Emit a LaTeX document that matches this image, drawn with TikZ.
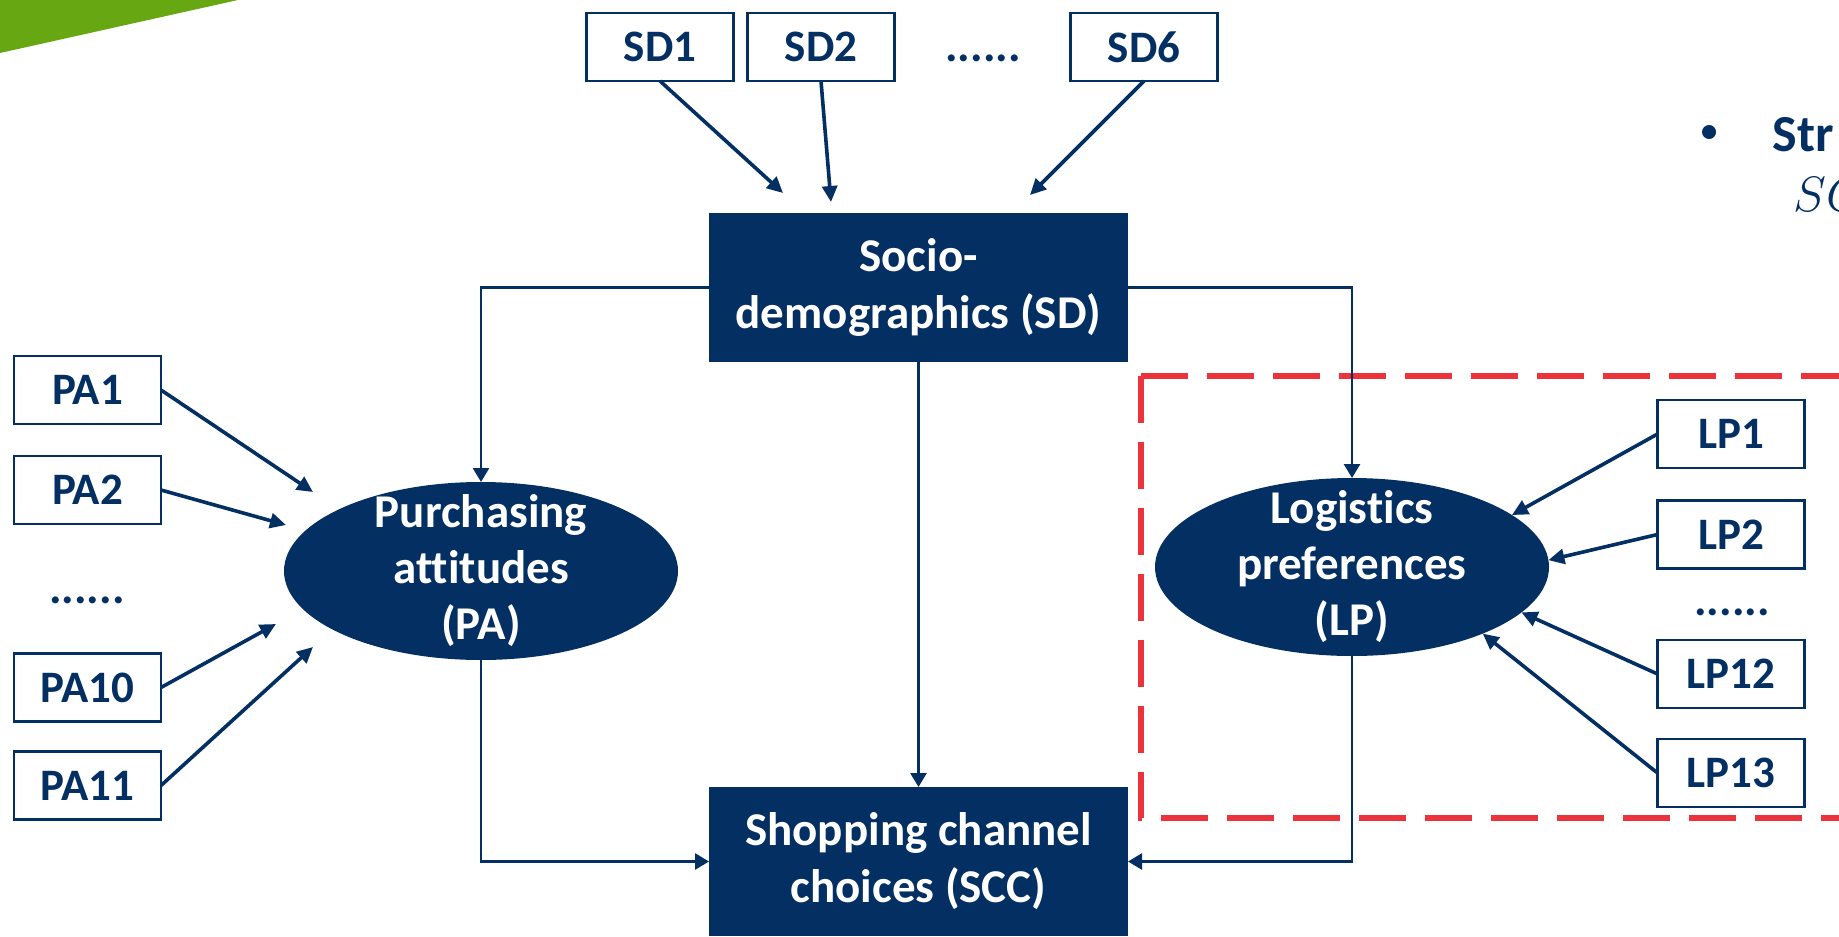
\documentclass[tikz,border=0pt]{standalone}
\usepackage{fontspec}
\setmainfont{Carlito}[Ligatures=NoCommon]
\usetikzlibrary{arrows.meta,shapes.geometric}

\definecolor{navy}{RGB}{3,47,99}
\definecolor{dashred}{RGB}{236,50,58}
\definecolor{slidegreen}{RGB}{102,167,18}

\begin{document}
\begin{tikzpicture}[x=0.5pt,y=-0.5pt,
    obs/.style={draw=navy,line width=1.4pt,fill=white,text=navy,
      font=\bfseries\fontsize{22.5}{27}\selectfont,
      minimum width=73.5pt,minimum height=34pt,inner sep=0pt,outer sep=0pt},
    construct/.style={fill=navy,text=white,align=center,
      font=\bfseries\fontsize{23.5}{28.5}\selectfont,
      minimum width=209.5pt,minimum height=74.5pt,inner sep=0pt,outer sep=0pt},
    latent/.style={ellipse,fill=navy,minimum width=197pt,minimum height=89pt,
      inner sep=0pt,outer sep=0pt},
    latenttext/.style={text=white,align=center,inner sep=0pt,
      font=\bfseries\fontsize{23.5}{28}\selectfont},
    dots/.style={text=navy,inner sep=0pt,font=\bfseries\fontsize{23.5}{28}\selectfont},
    ind/.style={-{Triangle[length=8pt,width=7.5pt]},draw=navy,line width=1.8pt},
    link/.style={-{Triangle[length=7pt,width=8pt]},draw=navy,line width=1.35pt}]
                      \useasboundingbox (0,0) rectangle (1839,936);
                      % slide decoration
                      \fill[slidegreen] (0,0) -- (238,0) -- (0,53) -- cycle;
                      \fill[navy] (1709,132) circle (3.5pt);
                      \node[anchor=base west,inner sep=0pt,text=navy,font=\bfseries\fontsize{26}{30}\selectfont] (Title) at (1772,152) {Str};
                      \node[anchor=base west,inner sep=0pt,text=navy,font=\fontsize{25}{30}\selectfont] (Formula) at (1793,212) {$SC$};
                      % measurement part of LP
                      \draw[dashred,line width=2.6pt,dash pattern=on 23.5pt off 9.5pt]
                      (1141,376) -- (1900,376) (1141,376) -- (1141,818) -- (1900,818);
                      % constructs
                      \node[construct] (SD) at (918.5,287.5) {Socio-\\demographics (SD)};
                      \node[construct] (SCC) at (918.5,861.5) {Shopping channel\\choices (SCC)};
                      \node[latent,label={[latenttext]center:{Purchasing\\attitudes\\(PA)}}] (PA) at (481,571) {};
                      \node[latent,label={[latenttext]center:{Logistics\\preferences\\(LP)}}] (LP) at (1352,567) {};
                      % indicators
                      \node[obs] (SD1) at (660,47) {SD1};
                      \node[obs] (SD2) at (821,47) {SD2};
                      \node[dots] (SDdots) at (983,58) {......};
                      \node[obs] (SD6) at (1144,47) {SD6};
                      \node[obs] (PA1) at (87.5,390) {PA1};
                      \node[obs] (PA2) at (87.5,490) {PA2};
                      \node[dots] (PAdots) at (87,600) {......};
                      \node[obs] (PA10) at (87.5,687.5) {PA10};
                      \node[obs] (PA11) at (87.5,785.5) {PA11};
                      \node[obs] (LP1) at (1731,434) {LP1};
                      \node[obs] (LP2) at (1731,534.5) {LP2};
                      \node[dots] (LPdots) at (1732,612) {......};
                      \node[obs] (LP12) at (1731,674) {LP12};
                      \node[obs] (LP13) at (1731,773) {LP13};
                      % free arrow ends
                      \coordinate (SD1tip) at (783,193);
                      \coordinate (SD2tip) at (831,202);
                      \coordinate (SD6tip) at (1030,195);
                      \coordinate (PA1tip) at (313,492);
                      \coordinate (PA2tip) at (286,525);
                      \coordinate (PA10tip) at (276,624);
                      \coordinate (PA11tip) at (313,647);
                      \path (SD1.south) edge[ind] (SD1tip) (SD2.south) edge[ind] (SD2tip)
                      (SD6.south) edge[ind] (SD6tip);
                      \path (PA1.east) edge[ind] (PA1tip) (PA2.east) edge[ind] (PA2tip)
                      (PA10.east) edge[ind] (PA10tip) (PA11.east) edge[ind] (PA11tip);
                      \path (LP1.west) edge[ind] (LP.18) (LP2.west) edge[ind] (LP.2)
                      (LP12.west) edge[ind] (LP.-15) (LP13.west) edge[ind] (LP.-27);
                      % structural paths
                      \draw[link] (SD.west) -| (PA.north);
                      \draw[link] (SD.east) -| (LP.north);
                      \draw[link] (SD.south) -- (SCC.north);
                      \draw[link] (PA.south) |- (SCC.west);
                      \draw[link] (LP.south) |- (SCC.east);
                    \end{tikzpicture}
\end{document}
